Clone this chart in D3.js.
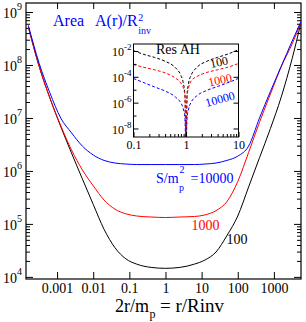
<!DOCTYPE html>
<html>
<head>
<meta charset="utf-8">
<script src="https://cdn.jsdelivr.net/npm/d3@7"></script>
<style>
  body { margin: 0; background: #fff; }
  text { font-family: "Liberation Serif", "Times New Roman", serif; }
</style>
</head>
<body>
<svg id="chart" width="306" height="322"></svg>
<script>
// ---- data ----
// main plot: r/Rinv sample points shared by the three curves
const rValues = [1.6e-4, 3.2e-4, 6.3e-4, 1.26e-3, 2.5e-3, 5e-3, 0.01, 0.02, 0.04, 0.08, 0.16, 0.4, 1,
                 2.5, 6.3, 12.5, 25, 50, 100, 200, 400, 800, 1600, 3200, 5600];
const area100 = [5.25e8, 9.33e7, 2.4e7, 6.9e6, 2.19e6, 7.1e5, 2.34e5, 7.9e4, 3.55e4, 2.19e4, 1.74e4, 1.51e4, 1.45e4,
                 1.51e4, 1.74e4, 2.09e4, 2.95e4, 6.0e4, 1.41e5, 5.0e5, 1.78e6, 6.3e6, 2.5e7, 1.32e8, 6.3e8];
const area1000 = [5.25e8, 9.33e7, 2.4e7, 7.2e6, 2.5e6, 1.05e6, 5.25e5, 2.82e5, 1.9e5, 1.55e5, 1.41e5, 1.35e5, 1.32e5,
                  1.35e5, 1.38e5, 1.48e5, 1.78e5, 2.63e5, 6.3e5, 2.24e6, 8.3e6, 2.82e7, 9.33e7, 2.5e8, 6.3e8];
const area10000 = [5.6e8, 1.07e8, 3.0e7, 1.0e7, 5.25e6, 2.95e6, 2.0e6, 1.58e6, 1.41e6, 1.35e6, 1.32e6, 1.32e6, 1.32e6,
                   1.32e6, 1.32e6, 1.35e6, 1.41e6, 1.58e6, 1.9e6, 2.95e6, 1.0e7, 3.16e7, 9.5e7, 2.82e8, 6.6e8];
const seriesNames = ["100", "1000", "10000"];
const seriesColors = ["#000000", "#ff0000", "#0000ff"];

// inset "Res AH"
const insetR = [0.1, 0.158, 0.25, 0.4, 0.63, 0.79, 0.89, 0.955, 1, 1.047, 1.12, 1.26, 1.58, 2.5, 4, 6.3, 10];
const res100 = [1.05e-2, 5.4e-3, 3.2e-3, 1.6e-3, 5.0e-4, 1.4e-4, 3.2e-5, 4.0e-6, 1e-10,
                4.0e-6, 3.2e-5, 1.4e-4, 5.0e-4, 1.6e-3, 3.2e-3, 5.8e-3, 1.26e-2];
const res1000 = [8.9e-4, 5.4e-4, 3.5e-4, 2.0e-4, 7.9e-5, 3.5e-5, 1.4e-5, 3.2e-6, 1e-10,
                 3.2e-6, 1.4e-5, 5.0e-5, 1.0e-4, 2.2e-4, 3.5e-4, 5.6e-4, 1.07e-3];
const res10000 = [7.4e-5, 3.5e-5, 1.66e-5, 7.9e-6, 2.7e-6, 1.0e-6, 3.2e-7, 6.3e-8, 1e-10,
                  6.3e-8, 3.2e-7, 1.12e-6, 3.2e-6, 8.9e-6, 1.78e-5, 3.5e-5, 7.6e-5];

// tick labels
const xTicks = [0.001, 0.01, 0.1, 1, 10, 100, 1000];
const yTicks = [1e4, 1e5, 1e6, 1e7, 1e8, 1e9];
const insetXTicks = [0.1, 1, 10];
const insetYTicks = [1e-2, 1e-4, 1e-6, 1e-8];

// ---- layout ----
const svg = d3.select("#chart");
const main = { left: 26, right: 301, top: 3, bottom: 279 };
const inset = { left: 133.5, right: 238.5, top: 44, bottom: 137 };

const x = d3.scaleLog().domain([10 ** -3.86, 10 ** 3.75]).range([main.left, main.right]);
const y = d3.scaleLog().domain([10 ** 3.96, 10 ** 9.17]).range([main.bottom, main.top]);
const ix = d3.scaleLog().domain([0.1, 10]).range([inset.left, inset.right]);
const iy = d3.scaleLog().domain([10 ** -8.66, 10 ** -1.46]).range([inset.bottom, inset.top]);

function minors(lo, hi, dom) {
  const out = [];
  for (let e = lo; e <= hi; e++)
    for (let m = 2; m <= 9; m++) {
      const v = m * 10 ** e;
      if (v > dom[0] && v < dom[1]) out.push(v);
    }
  return out;
}

function supLabels(sel, size, supSize, rise) {
  sel.selectAll(".tick text").each(function (d) {
    const t = d3.select(this).text(null);
    t.append("tspan").text("10");
    t.append("tspan").attr("dy", -rise).attr("font-size", supSize).text(Math.round(Math.log10(d)));
  }).attr("font-size", size).attr("fill", "#000");
}

function styleAxis(g) {
  g.select(".domain").remove();
  g.selectAll(".tick line").attr("stroke", "#000");
}

// ---- main axes ----
svg.append("g").attr("transform", `translate(${main.left},0)`)
  .call(d3.axisLeft(y).tickValues(yTicks).tickSizeInner(-7).tickSizeOuter(0).tickPadding(4))
  .call(styleAxis)
  .call(g => supLabels(g, 14, 10, 8))
  .call(g => g.selectAll(".tick text").attr("dy", "0.4em"));
svg.append("g").attr("transform", `translate(${main.left},0)`)
  .call(d3.axisLeft(y).tickValues(minors(3, 9, y.domain())).tickSizeInner(-4).tickSizeOuter(0).tickFormat(""))
  .call(styleAxis);
svg.append("g").attr("transform", `translate(${main.right},0)`)
  .call(d3.axisRight(y).tickValues(yTicks).tickSizeInner(-7).tickSizeOuter(0).tickFormat(""))
  .call(styleAxis);
svg.append("g").attr("transform", `translate(${main.right},0)`)
  .call(d3.axisRight(y).tickValues(minors(3, 9, y.domain())).tickSizeInner(-4).tickSizeOuter(0).tickFormat(""))
  .call(styleAxis);
svg.append("g").attr("transform", `translate(0,${main.bottom})`)
  .call(d3.axisBottom(x).tickValues(xTicks).tickSizeInner(-7).tickSizeOuter(0).tickPadding(4)
    .tickFormat(d => String(d)))
  .call(styleAxis)
  .call(g => g.selectAll(".tick text").attr("font-size", 14).attr("fill", "#000"));
svg.append("g").attr("transform", `translate(0,${main.top})`)
  .call(d3.axisTop(x).tickValues(xTicks).tickSizeInner(-6).tickSizeOuter(0).tickFormat(""))
  .call(styleAxis);

svg.append("rect")
  .attr("x", main.left).attr("y", main.top)
  .attr("width", main.right - main.left).attr("height", main.bottom - main.top)
  .attr("fill", "none").attr("stroke", "#000").attr("stroke-width", 1.2);

// ---- main curves ----
svg.append("clipPath").attr("id", "clipMain").append("rect")
  .attr("x", main.left).attr("y", main.top)
  .attr("width", main.right - main.left).attr("height", main.bottom - main.top);

const areaLine = d3.line().x(d => x(d[0])).y(d => y(d[1])).curve(d3.curveMonotoneX);
[area100, area1000, area10000].forEach((vals, i) => {
  svg.append("path")
    .datum(rValues.map((r, k) => [r, vals[k]]))
    .attr("clip-path", "url(#clipMain)")
    .attr("fill", "none").attr("stroke", seriesColors[i]).attr("stroke-width", 1)
    .attr("d", areaLine);
});

// ---- inset ----
svg.append("rect")
  .attr("x", inset.left).attr("y", inset.top)
  .attr("width", inset.right - inset.left).attr("height", inset.bottom - inset.top)
  .attr("fill", "#fff");

svg.append("clipPath").attr("id", "clipInset").append("rect")
  .attr("x", inset.left).attr("y", inset.top)
  .attr("width", inset.right - inset.left).attr("height", inset.bottom - inset.top);

const resLine = d3.line().x(d => ix(d[0])).y(d => iy(d[1])).curve(d3.curveMonotoneX);
[res100, res1000, res10000].forEach((vals, i) => {
  svg.append("path")
    .datum(insetR.map((r, k) => [r, vals[k]]))
    .attr("clip-path", "url(#clipInset)")
    .attr("fill", "none").attr("stroke", seriesColors[i]).attr("stroke-width", 1)
    .attr("stroke-dasharray", "3,2")
    .attr("d", resLine);
});

const insetYMinor = [1e-3, 1e-5, 1e-7];
svg.append("g").attr("transform", `translate(${inset.left},0)`)
  .call(d3.axisLeft(iy).tickValues(insetYTicks).tickSizeInner(-5).tickSizeOuter(0).tickPadding(2))
  .call(styleAxis)
  .call(g => supLabels(g, 12, 9, 6))
  .call(g => g.selectAll(".tick text").attr("dy", "0.4em"));
svg.append("g").attr("transform", `translate(${inset.left},0)`)
  .call(d3.axisLeft(iy).tickValues(insetYMinor).tickSizeInner(-3).tickSizeOuter(0).tickFormat(""))
  .call(styleAxis);
svg.append("g").attr("transform", `translate(${inset.right},0)`)
  .call(d3.axisRight(iy).tickValues(insetYTicks).tickSizeInner(-5).tickSizeOuter(0).tickFormat(""))
  .call(styleAxis);
svg.append("g").attr("transform", `translate(0,${inset.bottom})`)
  .call(d3.axisBottom(ix).tickValues(insetXTicks).tickSizeInner(-5).tickSizeOuter(0).tickPadding(3)
    .tickFormat(d => String(d)))
  .call(styleAxis)
  .call(g => g.selectAll(".tick text").attr("font-size", 12).attr("fill", "#000"));
svg.append("g").attr("transform", `translate(0,${inset.bottom})`)
  .call(d3.axisBottom(ix).tickValues(minors(-1, 0, ix.domain())).tickSizeInner(-3).tickSizeOuter(0).tickFormat(""))
  .call(styleAxis);

svg.append("rect")
  .attr("x", inset.left).attr("y", inset.top)
  .attr("width", inset.right - inset.left).attr("height", inset.bottom - inset.top)
  .attr("fill", "none").attr("stroke", "#000").attr("stroke-width", 1);

svg.append("text").attr("x", 178).attr("y", 54).attr("text-anchor", "middle")
  .attr("font-size", 14).text("Res AH");

const insetLabels = [[219, 62, -12], [220, 80, -12], [220, 99, -15]];
insetLabels.forEach(([lx, ly, rot], i) => {
  svg.append("text")
    .attr("transform", `translate(${lx},${ly}) rotate(${rot})`)
    .attr("text-anchor", "middle").attr("dy", "0.35em")
    .attr("font-size", 12).attr("fill", seriesColors[i])
    .text(seriesNames[i]);
});

// ---- annotations ----
const blue = seriesColors[2];
svg.append("text").attr("x", 53).attr("y", 26).attr("font-size", 16).attr("fill", blue).text("Area");
const ar = svg.append("text").attr("x", 95).attr("y", 26).attr("font-size", 16).attr("fill", blue).text("A(r)/R");
const arEnd = 95 + ar.node().getComputedTextLength();
svg.append("text").attr("x", arEnd + 0.5).attr("y", 21).attr("font-size", 10).attr("fill", blue).text("2");
svg.append("text").attr("x", arEnd + 0.5).attr("y", 33.5).attr("font-size", 10).attr("fill", blue).text("inv");

const sm = svg.append("text").attr("x", 156).attr("y", 183).attr("font-size", 14).attr("fill", blue).text("S/m");
const smEnd = 156 + sm.node().getComputedTextLength();
svg.append("text").attr("x", smEnd + 0.5).attr("y", 191).attr("font-size", 10).attr("fill", blue).text("p");
svg.append("text").attr("x", smEnd + 1).attr("y", 173).attr("font-size", 10).attr("fill", blue).text("2");
svg.append("text").attr("x", 190.5).attr("y", 183).attr("font-size", 14).attr("fill", blue).text("=" + seriesNames[2]);

svg.append("text").attr("x", 191.5).attr("y", 229.5).attr("font-size", 14).attr("fill", seriesColors[1]).text(seriesNames[1]);
svg.append("text").attr("x", 226.5).attr("y", 243.5).attr("font-size", 14).attr("fill", seriesColors[0]).text(seriesNames[0]);

// x axis title
const xt = svg.append("text").attr("x", 115).attr("y", 312).attr("font-size", 18).text("2r/m");
const xtEnd = 115 + xt.node().getComputedTextLength();
svg.append("text").attr("x", xtEnd + 0.5).attr("y", 318).attr("font-size", 12).text("p");
svg.append("text").attr("x", 160).attr("y", 312).attr("font-size", 19).text("= r/Rinv");
</script>
</body>
</html>
